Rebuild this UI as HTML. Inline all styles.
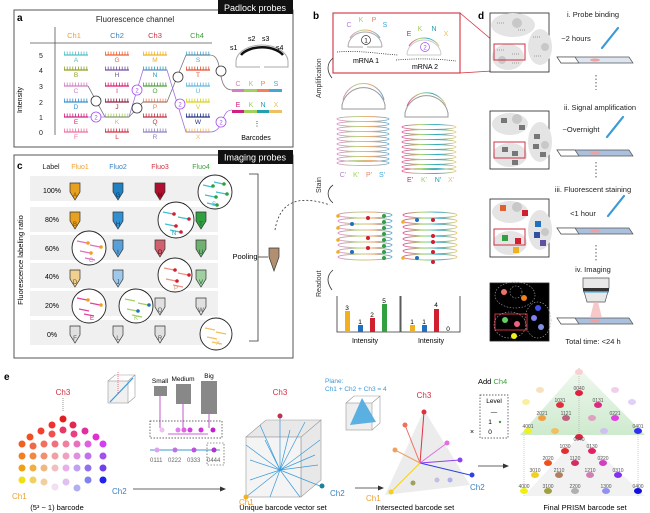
<!DOCTYPE html>
<html><head><meta charset="utf-8"><style>
html,body{margin:0;padding:0;background:#fff;}
svg{display:block;font-family:"Liberation Sans",sans-serif;}
</style></head><body>
<svg width="650" height="513" viewBox="0 0 650 513" xmlns="http://www.w3.org/2000/svg">
<defs>
<linearGradient id="g1" x1="0" x2="1"><stop offset="0" stop-color="#d98ac8"/><stop offset=".35" stop-color="#b8d48a"/><stop offset=".65" stop-color="#f0a870"/><stop offset="1" stop-color="#5aa8d8"/></linearGradient>
<linearGradient id="g2" x1="0" x2="1"><stop offset="0" stop-color="#e0509a"/><stop offset=".35" stop-color="#a8d870"/><stop offset=".65" stop-color="#30a8c8"/><stop offset="1" stop-color="#f0c870"/></linearGradient>
<linearGradient id="tri" x1="0" x2="0" y1="0" y2="1"><stop offset="0" stop-color="#eef7ee"/><stop offset="1" stop-color="#c8e8c8"/></linearGradient>
</defs>

<!-- ===== Panel a ===== -->
<rect x="14" y="10" width="279" height="137" fill="none" stroke="#555" stroke-width="1"/>
<rect x="218" y="0" width="75" height="14" fill="#111"/>
<text x="255" y="11" font-size="9" fill="#fff" text-anchor="middle">Padlock probes</text>
<text x="17" y="21" font-size="10" font-weight="bold">a</text>
<text x="135" y="22" font-size="8" text-anchor="middle" fill="#222">Fluorescence channel</text>
<line x1="30" y1="43" x2="212" y2="43" stroke="#555" stroke-width="0.8"/>
<line x1="55" y1="27" x2="55" y2="135" stroke="#555" stroke-width="0.8"/>
<g font-size="7.5" text-anchor="middle">
<text x="74" y="38" fill="#f0a030">Ch1</text><text x="117" y="38" fill="#3a80c0">Ch2</text><text x="155" y="38" fill="#d03040">Ch3</text><text x="197" y="38" fill="#40a040">Ch4</text>
</g>
<text x="22" y="100" font-size="7" transform="rotate(-90 22 100)" text-anchor="middle">Intensity</text>
<g font-size="7" text-anchor="middle" fill="#222">
<text x="41" y="58">5</text><text x="41" y="73">4</text><text x="41" y="89">3</text><text x="41" y="105">2</text><text x="41" y="120">1</text><text x="41" y="135">0</text>
</g>
<g stroke-width="1.2">
<g>
<g stroke="#50c0c8"><line x1="64" y1="55" x2="88" y2="55"/><line x1="64" y1="53" x2="88" y2="53" stroke-width="3" stroke-dasharray="0.8 2"/></g>
<g stroke="#90a020"><line x1="64" y1="70" x2="88" y2="70"/><line x1="64" y1="68" x2="88" y2="68" stroke-width="3" stroke-dasharray="0.8 2"/></g>
<g stroke="#d080c0"><line x1="64" y1="86" x2="88" y2="86"/><line x1="64" y1="84" x2="88" y2="84" stroke-width="3" stroke-dasharray="0.8 2"/></g>
<g stroke="#3a90d0"><line x1="64" y1="102" x2="88" y2="102"/><line x1="64" y1="100" x2="88" y2="100" stroke-width="3" stroke-dasharray="0.8 2"/></g>
<g stroke="#d02080"><line x1="64" y1="117" x2="88" y2="117"/><line x1="64" y1="115" x2="88" y2="115" stroke-width="3" stroke-dasharray="0.8 2"/></g>
<g stroke="#f070a0"><line x1="64" y1="132" x2="88" y2="132"/><line x1="64" y1="130" x2="88" y2="130" stroke-width="3" stroke-dasharray="0.8 2"/></g>
</g>
<g>
<g stroke="#f06030"><line x1="105" y1="55" x2="129" y2="55"/><line x1="105" y1="53" x2="129" y2="53" stroke-width="3" stroke-dasharray="0.8 2"/></g>
<g stroke="#7050a0"><line x1="105" y1="70" x2="129" y2="70"/><line x1="105" y1="68" x2="129" y2="68" stroke-width="3" stroke-dasharray="0.8 2"/></g>
<g stroke="#e01870"><line x1="105" y1="86" x2="129" y2="86"/><line x1="105" y1="84" x2="129" y2="84" stroke-width="3" stroke-dasharray="0.8 2"/></g>
<g stroke="#902040"><line x1="105" y1="102" x2="129" y2="102"/><line x1="105" y1="100" x2="129" y2="100" stroke-width="3" stroke-dasharray="0.8 2"/></g>
<g stroke="#a0d060"><line x1="105" y1="117" x2="129" y2="117"/><line x1="105" y1="115" x2="129" y2="115" stroke-width="3" stroke-dasharray="0.8 2"/></g>
<g stroke="#d03040"><line x1="105" y1="132" x2="129" y2="132"/><line x1="105" y1="130" x2="129" y2="130" stroke-width="3" stroke-dasharray="0.8 2"/></g>
</g>
<g>
<g stroke="#f0b020"><line x1="143" y1="55" x2="167" y2="55"/><line x1="143" y1="53" x2="167" y2="53" stroke-width="3" stroke-dasharray="0.8 2"/></g>
<g stroke="#20a0b0"><line x1="143" y1="70" x2="167" y2="70"/><line x1="143" y1="68" x2="167" y2="68" stroke-width="3" stroke-dasharray="0.8 2"/></g>
<g stroke="#50a040"><line x1="143" y1="86" x2="167" y2="86"/><line x1="143" y1="84" x2="167" y2="84" stroke-width="3" stroke-dasharray="0.8 2"/></g>
<g stroke="#f08060"><line x1="143" y1="102" x2="167" y2="102"/><line x1="143" y1="100" x2="167" y2="100" stroke-width="3" stroke-dasharray="0.8 2"/></g>
<g stroke="#c03040"><line x1="143" y1="117" x2="167" y2="117"/><line x1="143" y1="115" x2="167" y2="115" stroke-width="3" stroke-dasharray="0.8 2"/></g>
<g stroke="#9080c0"><line x1="143" y1="132" x2="167" y2="132"/><line x1="143" y1="130" x2="167" y2="130" stroke-width="3" stroke-dasharray="0.8 2"/></g>
</g>
<g>
<g stroke="#40a8d8"><line x1="186" y1="55" x2="210" y2="55"/><line x1="186" y1="53" x2="210" y2="53" stroke-width="3" stroke-dasharray="0.8 2"/></g>
<g stroke="#e05030"><line x1="186" y1="70" x2="210" y2="70"/><line x1="186" y1="68" x2="210" y2="68" stroke-width="3" stroke-dasharray="0.8 2"/></g>
<g stroke="#60b8e0"><line x1="186" y1="86" x2="210" y2="86"/><line x1="186" y1="84" x2="210" y2="84" stroke-width="3" stroke-dasharray="0.8 2"/></g>
<g stroke="#d8d020"><line x1="186" y1="102" x2="210" y2="102"/><line x1="186" y1="100" x2="210" y2="100" stroke-width="3" stroke-dasharray="0.8 2"/></g>
<g stroke="#203080"><line x1="186" y1="117" x2="210" y2="117"/><line x1="186" y1="115" x2="210" y2="115" stroke-width="3" stroke-dasharray="0.8 2"/></g>
<g stroke="#f0c060"><line x1="186" y1="132" x2="210" y2="132"/><line x1="186" y1="130" x2="210" y2="130" stroke-width="3" stroke-dasharray="0.8 2"/></g>
</g>
</g>
<g font-size="6.5" text-anchor="middle">
<text x="76" y="62" fill="#50c0c8">A</text><text x="76" y="77" fill="#90a020">B</text><text x="76" y="93" fill="#d080c0">C</text><text x="76" y="109" fill="#3a90d0">D</text><text x="76" y="124" fill="#d02080">E</text><text x="76" y="139" fill="#f070a0">F</text>
<text x="117" y="62" fill="#f06030">G</text><text x="117" y="77" fill="#7050a0">H</text><text x="117" y="93" fill="#e01870">I</text><text x="117" y="109" fill="#902040">J</text><text x="117" y="124" fill="#a0d060">K</text><text x="117" y="139" fill="#d03040">L</text>
<text x="155" y="62" fill="#f0b020">M</text><text x="155" y="77" fill="#20a0b0">N</text><text x="155" y="93" fill="#50a040">O</text><text x="155" y="109" fill="#f08060">P</text><text x="155" y="124" fill="#c03040">Q</text><text x="155" y="139" fill="#9080c0">R</text>
<text x="198" y="62" fill="#40a8d8">S</text><text x="198" y="77" fill="#e05030">T</text><text x="198" y="93" fill="#60b8e0">U</text><text x="198" y="109" fill="#d8d020">V</text><text x="198" y="124" fill="#203080">W</text><text x="198" y="139" fill="#f0c060">X</text>
</g>
<path d="M88 86 L105 117 L129 117 L143 102 L167 102 L186 55 L210 55 C225 55 215 90 232 90" fill="none" stroke="#777" stroke-width="0.8"/>
<path d="M88 117 L105 117 M129 117 L143 70 L167 70 L186 132 L210 132 C225 132 220 110 232 110" fill="none" stroke="#a070e0" stroke-width="0.8"/>
<g fill="#fff" stroke-width="0.8" font-size="6" text-anchor="middle">
<circle cx="96" cy="101" r="5" stroke="#333"/><text x="96" y="103.5">1</text>
<circle cx="96" cy="117" r="5" stroke="#a050f0"/><text x="96" y="119.5" fill="#a050f0">2</text>
<circle cx="137" cy="108" r="5" stroke="#333"/><text x="137" y="110.5">1</text>
<circle cx="137" cy="90" r="5" stroke="#a050f0"/><text x="137" y="92.5" fill="#a050f0">2</text>
<circle cx="178" cy="77" r="5" stroke="#333"/><text x="178" y="79.5">1</text>
<circle cx="180" cy="104" r="5" stroke="#a050f0"/><text x="180" y="106.5" fill="#a050f0">2</text>
<circle cx="221" cy="71" r="5" stroke="#333"/><text x="221" y="73.5">1</text>
<circle cx="221" cy="122" r="5" stroke="#a050f0"/><text x="221" y="124.5" fill="#a050f0">2</text>
</g>
<path d="M236 67 L236 62 A26 17 0 0 1 288 62 L288 67 L264 67 M260 67 L236 67" fill="none" stroke="#aaa" stroke-width="1"/>
<path d="M241 55 A23 13 0 0 1 283 55" fill="none" stroke="#111" stroke-width="2.5"/>
<g font-size="7"><text x="230" y="50">s1</text><text x="248" y="41">s2</text><text x="262" y="41">s3</text><text x="276" y="50">s4</text></g>
<g font-size="7" text-anchor="middle">
<text x="238" y="86" fill="#d080c0">C</text><text x="251" y="86" fill="#a0d060">K</text><text x="263" y="86" fill="#f08060">P</text><text x="276" y="86" fill="#40a8d8">S</text>
<text x="238" y="107" fill="#d02080">E</text><text x="251" y="107" fill="#a0d060">K</text><text x="263" y="107" fill="#20a0b0">N</text><text x="276" y="107" fill="#f0c060">X</text>
</g>
<rect x="232" y="89" width="12" height="3" fill="#d080c0"/><rect x="244" y="89" width="13" height="3" fill="#a0d060"/><rect x="257" y="89" width="12" height="3" fill="#f08060"/><rect x="269" y="89" width="13" height="3" fill="#40a8d8"/>
<rect x="232" y="110" width="12" height="3" fill="#d02080"/><rect x="244" y="110" width="13" height="3" fill="#a0d060"/><rect x="257" y="110" width="12" height="3" fill="#20a0b0"/><rect x="269" y="110" width="13" height="3" fill="#f0c060"/>
<text x="257" y="126" font-size="7" text-anchor="middle">⋮</text>
<text x="256" y="140" font-size="7" text-anchor="middle">Barcodes</text>

<!-- ===== Panel c ===== -->
<rect x="14" y="155" width="279" height="203" fill="none" stroke="#555" stroke-width="1"/>
<rect x="218" y="150" width="75" height="14" fill="#111"/>
<text x="255" y="160.5" font-size="9" fill="#fff" text-anchor="middle">Imaging probes</text>
<text x="17" y="169" font-size="10" font-weight="bold">c</text>
<g fill="#f0f0f0">
<rect x="30" y="176" width="188" height="25"/><rect x="30" y="207" width="188" height="25"/><rect x="30" y="235" width="188" height="25"/><rect x="30" y="263" width="188" height="25"/><rect x="30" y="291" width="188" height="25"/><rect x="30" y="320" width="188" height="25"/>
</g>
<g font-size="7" text-anchor="middle">
<text x="51" y="169" fill="#222">Label</text>
<text x="80" y="169" fill="#f0a030">Fluo1</text><text x="118" y="169" fill="#3a80c0">Fluo2</text><text x="160" y="169" fill="#d03040">Fluo3</text><text x="201" y="169" fill="#40a040">Fluo4</text>
<text x="52" y="193">100%</text><text x="52" y="222">80%</text><text x="52" y="251">60%</text><text x="52" y="279">40%</text><text x="52" y="308">20%</text><text x="52" y="337">0%</text>
</g>
<text x="23" y="260" font-size="7.5" transform="rotate(-90 23 260)" text-anchor="middle">Fluorescence labeling ratio</text>
<g stroke="#333" stroke-width="0.7">
<path d="M70 183 h10 v9 l-5 8 l-5 -8 z" fill="#e8a020"/><path d="M70 212 h10 v9 l-5 8 l-5 -8 z" fill="#e8a020"/><path d="M70 270 h10 v9 l-5 8 l-5 -8 z" fill="#f0d090"/><path d="M70 326 h10 v9 l-5 8 l-5 -8 z" fill="#e0e0e0"/>
<path d="M113 183 h10 v9 l-5 8 l-5 -8 z" fill="#2080c0"/><path d="M113 212 h10 v9 l-5 8 l-5 -8 z" fill="#3090d0"/><path d="M113 240 h10 v9 l-5 8 l-5 -8 z" fill="#5aa0d8"/><path d="M113 270 h10 v9 l-5 8 l-5 -8 z" fill="#a0c8e8"/><path d="M113 326 h10 v9 l-5 8 l-5 -8 z" fill="#e0e0e0"/>
<path d="M155 183 h10 v9 l-5 8 l-5 -8 z" fill="#b01030"/><path d="M155 240 h10 v9 l-5 8 l-5 -8 z" fill="#d06070"/><path d="M155 298 h10 v9 l-5 8 l-5 -8 z" fill="#e0e0e0"/><path d="M155 326 h10 v9 l-5 8 l-5 -8 z" fill="#e0e0e0"/>
<path d="M196 212 h10 v9 l-5 8 l-5 -8 z" fill="#30a040"/><path d="M196 240 h10 v9 l-5 8 l-5 -8 z" fill="#70b070"/><path d="M196 270 h10 v9 l-5 8 l-5 -8 z" fill="#a0d0a0"/><path d="M196 298 h10 v9 l-5 8 l-5 -8 z" fill="#e0e0e0"/>
</g>
<g stroke="#222" stroke-width="0.9" fill="#fff">
<circle cx="215" cy="192" r="17"/><circle cx="176" cy="220" r="18"/><circle cx="89" cy="248" r="17"/><circle cx="175" cy="275" r="17"/><circle cx="89" cy="306" r="17"/><circle cx="136" cy="306" r="17"/><circle cx="216" cy="334" r="16"/>
</g>
<g stroke-width="1.2">
<g stroke="#40c0d0"><line x1="203" y1="185" x2="212" y2="187"/><line x1="205" y1="195" x2="215" y2="197"/><line x1="214" y1="182" x2="223" y2="184"/><line x1="216" y1="192" x2="226" y2="194"/><line x1="207" y1="203" x2="216" y2="205"/></g>
<g stroke="#40c0d0"><line x1="163" y1="212" x2="173" y2="214"/><line x1="165" y1="224" x2="175" y2="226"/><line x1="178" y1="217" x2="188" y2="219"/><line x1="170" y1="230" x2="180" y2="232"/></g>
<g stroke="#e070c0"><line x1="77" y1="241" x2="87" y2="243"/><line x1="80" y1="251" x2="90" y2="253"/><line x1="90" y1="245" x2="100" y2="247"/><line x1="85" y1="258" x2="95" y2="260"/></g>
<g stroke="#f09080"><line x1="164" y1="268" x2="174" y2="270"/><line x1="166" y1="279" x2="176" y2="281"/><line x1="178" y1="273" x2="188" y2="275"/><line x1="173" y1="285" x2="183" y2="287"/></g>
<g stroke="#e040a0"><line x1="77" y1="298" x2="87" y2="300"/><line x1="79" y1="309" x2="89" y2="311"/><line x1="90" y1="303" x2="100" y2="305"/><line x1="84" y1="314" x2="94" y2="316"/></g>
<g stroke="#a0d060"><line x1="125" y1="299" x2="135" y2="301"/><line x1="127" y1="309" x2="137" y2="311"/><line x1="138" y1="303" x2="148" y2="305"/><line x1="132" y1="315" x2="142" y2="317"/></g>
<g stroke="#f0c060"><line x1="205" y1="328" x2="215" y2="330"/><line x1="207" y1="337" x2="217" y2="339"/><line x1="216" y1="332" x2="226" y2="334"/><line x1="212" y1="342" x2="222" y2="344"/></g>
</g>
<g>
<g fill="#30a040"><circle cx="213" cy="186" r="1.8"/><circle cx="216" cy="197" r="1.8"/><circle cx="224" cy="184" r="1.8"/><circle cx="227" cy="194" r="1.8"/><circle cx="217" cy="205" r="1.8"/></g>
<g fill="#d02030"><circle cx="174" cy="214" r="1.8"/><circle cx="176" cy="226" r="1.8"/><circle cx="189" cy="219" r="1.8"/><circle cx="181" cy="232" r="1.8"/></g>
<g fill="#f0a020"><circle cx="88" cy="243" r="1.8"/><circle cx="91" cy="253" r="1.8"/><circle cx="101" cy="247" r="1.8"/></g>
<g fill="#d02030"><circle cx="175" cy="270" r="1.8"/><circle cx="177" cy="281" r="1.8"/><circle cx="189" cy="275" r="1.8"/></g>
<g fill="#f0a020"><circle cx="88" cy="300" r="1.8"/><circle cx="101" cy="305" r="1.8"/></g>
<g fill="#2070c0"><circle cx="138" cy="311" r="1.8"/><circle cx="149" cy="305" r="1.8"/></g>
</g>
<g font-size="6" text-anchor="middle">
<text x="75" y="197" fill="#7a4a00">A</text><text x="75" y="226" fill="#7a4a00">B</text><text x="75" y="284" fill="#7a4a00">D</text><text x="75" y="340" fill="#555">F</text>
<text x="118" y="197" fill="#0a3a70">G</text><text x="118" y="226" fill="#0a3a70">H</text><text x="118" y="254" fill="#0a3a70">I</text><text x="118" y="284" fill="#0a3a70">J</text><text x="118" y="340" fill="#555">L</text>
<text x="160" y="197" fill="#600">M</text><text x="160" y="254" fill="#600">O</text><text x="160" y="312" fill="#555">Q</text><text x="160" y="340" fill="#555">R</text>
<text x="201" y="226" fill="#063">T</text><text x="201" y="254" fill="#063">U</text><text x="201" y="284" fill="#063">V</text><text x="201" y="312" fill="#555">W</text>
<text x="214" y="206" fill="#40a8d8">S</text><text x="174" y="235" fill="#20a0b0">N</text><text x="91" y="262" fill="#d080c0">C</text><text x="176" y="290" fill="#f08060">P</text><text x="92" y="320" fill="#d02080">E</text><text x="136" y="320" fill="#a0d060">K</text><text x="218" y="345" fill="#f0c060">X</text>
</g>
<path d="M249 174 H258 V341 H249" fill="none" stroke="#333" stroke-width="0.8"/>
<line x1="258" y1="257" x2="268" y2="257" stroke="#333" stroke-width="0.8"/>
<text x="245" y="259" font-size="7.5" text-anchor="middle">Pooling</text>
<path d="M269 248 h10 v9 l-5 14 l-5 -14 z" fill="#b09070" stroke="#333" stroke-width="0.7"/>
<path d="M275 230 C280 200 300 195 330 205" fill="none" stroke="#333" stroke-width="0.8" stroke-dasharray="2 2"/>

<!-- ===== Panel b ===== -->
<text x="313" y="19" font-size="10" font-weight="bold">b</text>
<rect x="333" y="13" width="127" height="60" fill="none" stroke="#d03040" stroke-width="1.1"/>
<line x1="460" y1="13" x2="492" y2="40" stroke="#d03040" stroke-width="0.8"/><line x1="460" y1="73" x2="492" y2="71" stroke="#d03040" stroke-width="0.8"/>
<path d="M348 47 A17 15 0 0 1 382 47 M348 47 h15 M367 47 h15" fill="none" stroke="#aaa" stroke-width="1"/>
<path d="M407 55 A17 15 0 0 1 441 55 M407 55 h34" fill="none" stroke="#ccc" stroke-width="1"/>
<path d="M350 38 A17 15 0 0 1 380 38" fill="none" stroke="url(#g1)" stroke-width="1"/>
<path d="M409 46 A17 15 0 0 1 439 46" fill="none" stroke="url(#g2)" stroke-width="1"/>
<g font-size="7" text-anchor="middle">
<text x="349" y="27" fill="#b080d0">C</text><text x="361" y="22" fill="#a0d060">K</text><text x="374" y="22" fill="#f08060">P</text><text x="385" y="27" fill="#40a8d8">S</text>
<text x="409" y="36" fill="#d02080">E</text><text x="420" y="31" fill="#a0d060">K</text><text x="434" y="31" fill="#20a0b0">N</text><text x="446" y="36" fill="#f0c060">X</text>
</g>
<circle cx="366" cy="40" r="4.5" fill="none" stroke="#333" stroke-width="0.7"/><text x="366" y="42.5" font-size="6" text-anchor="middle">1</text>
<circle cx="425" cy="47" r="4.5" fill="none" stroke="#a050f0" stroke-width="0.7"/><text x="425" y="49.5" font-size="6" text-anchor="middle" fill="#a050f0">2</text>
<path d="M337 52 C360 50 380 54 398 55" fill="none" stroke="#333" stroke-width="0.8" stroke-dasharray="1 1.2"/>
<path d="M396 60 C420 58 440 59 456 61" fill="none" stroke="#333" stroke-width="0.8" stroke-dasharray="1 1.2"/>
<text x="366" y="63" font-size="7" text-anchor="middle">mRNA 1</text><text x="425" y="69" font-size="7" text-anchor="middle">mRNA 2</text>
<g font-size="7" fill="#333">
<text x="0" y="0" transform="translate(321 98) rotate(-90)">Amplification</text>
<text x="0" y="0" transform="translate(321 193) rotate(-90)">Stain</text>
<text x="0" y="0" transform="translate(321 297) rotate(-90)">Readout</text>
</g>
<path d="M333 58 C326 64 327 72 332 78 M333 185 C326 190 327 198 333 203 M333 270 C326 276 327 283 332 290" fill="none" stroke="#333" stroke-width="0.8"/>
<path d="M342 105 A22 22 0 0 1 385 105 L385 109 L342 109 Z" fill="none" stroke="#999" stroke-width="1"/>
<path d="M343 100 A21 21 0 0 1 384 100" fill="none" stroke="url(#g1)" stroke-width="1"/>
<path d="M405 113 A22 22 0 0 1 448 113 L448 117 L405 117 Z" fill="none" stroke="#999" stroke-width="1"/>
<path d="M407 106 A21 21 0 0 1 446 106" fill="none" stroke="url(#g2)" stroke-width="1"/>
<g fill="none" stroke="url(#g1)" stroke-width="0.9">
<ellipse cx="363" cy="119" rx="26" ry="2.5"/><ellipse cx="363" cy="124" rx="26" ry="2.5"/><ellipse cx="363" cy="129" rx="26" ry="2.5"/><ellipse cx="363" cy="134" rx="26" ry="2.5"/><ellipse cx="363" cy="139" rx="26" ry="2.5"/><ellipse cx="363" cy="144" rx="26" ry="2.5"/><ellipse cx="363" cy="149" rx="26" ry="2.5"/><ellipse cx="363" cy="154" rx="26" ry="2.5"/><ellipse cx="363" cy="159" rx="26" ry="2.5"/><ellipse cx="363" cy="163" rx="26" ry="2.5"/>
</g>
<g fill="none" stroke="url(#g2)" stroke-width="0.9">
<ellipse cx="429" cy="127" rx="27" ry="2.5"/><ellipse cx="429" cy="132" rx="27" ry="2.5"/><ellipse cx="429" cy="137" rx="27" ry="2.5"/><ellipse cx="429" cy="142" rx="27" ry="2.5"/><ellipse cx="429" cy="147" rx="27" ry="2.5"/><ellipse cx="429" cy="152" rx="27" ry="2.5"/><ellipse cx="429" cy="157" rx="27" ry="2.5"/><ellipse cx="429" cy="162" rx="27" ry="2.5"/><ellipse cx="429" cy="167" rx="27" ry="2.5"/><ellipse cx="429" cy="171" rx="27" ry="2.5"/>
</g>
<g font-size="7" text-anchor="middle">
<text x="343" y="177" fill="#b080d0">C'</text><text x="356" y="177" fill="#a0d060">K'</text><text x="369" y="177" fill="#f08060">P'</text><text x="382" y="177" fill="#40a8d8">S'</text>
<text x="410" y="182" fill="#d02080">E'</text><text x="424" y="182" fill="#a0d060">K'</text><text x="438" y="182" fill="#20a0b0">N'</text><text x="451" y="182" fill="#f0c060">X'</text>
</g>
<g fill="none" stroke-width="0.9">
<g stroke="url(#g1)"><ellipse cx="365" cy="215" rx="27" ry="3"/><ellipse cx="365" cy="221" rx="27" ry="3"/><ellipse cx="365" cy="227" rx="27" ry="3"/><ellipse cx="365" cy="233" rx="27" ry="3"/><ellipse cx="365" cy="239" rx="27" ry="3"/><ellipse cx="365" cy="245" rx="27" ry="3"/><ellipse cx="365" cy="251" rx="27" ry="3"/><ellipse cx="365" cy="257" rx="27" ry="3"/></g>
<g stroke="url(#g2)"><ellipse cx="430" cy="215" rx="27" ry="3"/><ellipse cx="430" cy="221" rx="27" ry="3"/><ellipse cx="430" cy="227" rx="27" ry="3"/><ellipse cx="430" cy="233" rx="27" ry="3"/><ellipse cx="430" cy="239" rx="27" ry="3"/><ellipse cx="430" cy="245" rx="27" ry="3"/><ellipse cx="430" cy="251" rx="27" ry="3"/><ellipse cx="430" cy="257" rx="27" ry="3"/></g>
</g>
<g>
<g fill="#f0b020"><circle cx="338" cy="216" r="1.8"/><circle cx="338" cy="228" r="1.8"/><circle cx="338" cy="240" r="1.8"/><circle cx="338" cy="252" r="1.8"/><circle cx="403" cy="222" r="1.8"/><circle cx="403" cy="258" r="1.8"/></g>
<g fill="#2070c0"><circle cx="352" cy="224" r="2"/><circle cx="352" cy="252" r="2"/><circle cx="417" cy="220" r="2"/><circle cx="417" cy="258" r="2"/></g>
<g fill="#d02030"><circle cx="368" cy="218" r="2"/><circle cx="368" cy="238" r="2"/><circle cx="368" cy="248" r="2"/><circle cx="433" cy="220" r="2"/><circle cx="433" cy="236" r="2"/><circle cx="433" cy="242" r="2"/><circle cx="433" cy="252" r="2"/><circle cx="433" cy="262" r="2"/></g>
<g fill="#30a040"><circle cx="384" cy="216" r="2"/><circle cx="384" cy="222" r="2"/><circle cx="384" cy="228" r="2"/><circle cx="384" cy="234" r="2"/><circle cx="384" cy="240" r="2"/><circle cx="384" cy="246" r="2"/><circle cx="384" cy="252" r="2"/><circle cx="384" cy="258" r="2"/></g>
</g>
<path d="M337 296 V332 H400 V296" fill="none" stroke="#333" stroke-width="0.8"/>
<rect x="345" y="311" width="5" height="21" fill="#f0b020"/><rect x="358" y="325" width="5" height="7" fill="#2070c0"/><rect x="370" y="318" width="5" height="14" fill="#d02030"/><rect x="382" y="304" width="5" height="28" fill="#30a040"/>
<g font-size="6.5" text-anchor="middle"><text x="347" y="310">3</text><text x="360" y="324">1</text><text x="372" y="317">2</text><text x="384" y="303">5</text></g>
<path d="M401 296 V332 H460 V296" fill="none" stroke="#333" stroke-width="0.8"/>
<rect x="410" y="325" width="5" height="7" fill="#f0b020"/><rect x="422" y="325" width="5" height="7" fill="#2070c0"/><rect x="434" y="309" width="5" height="23" fill="#d02030"/>
<g font-size="6.5" text-anchor="middle"><text x="412" y="324">1</text><text x="424" y="324">1</text><text x="436" y="307">4</text><text x="448" y="331">0</text></g>
<text x="365" y="343" font-size="7" text-anchor="middle">Intensity</text><text x="431" y="343" font-size="7" text-anchor="middle">Intensity</text>

<!-- ===== Panel d ===== -->
<text x="478" y="19" font-size="10" font-weight="bold">d</text>
<g stroke="#222" stroke-width="0.8">
<rect x="490" y="13" width="59" height="59" fill="#fff"/><rect x="490" y="111" width="59" height="58" fill="#fff"/><rect x="490" y="199" width="59" height="58" fill="#fff"/><rect x="490" y="283" width="59" height="58" fill="#000"/>
</g>
<g fill="#e4e4e4">
<ellipse cx="513" cy="25" rx="22" ry="12"/><ellipse cx="540" cy="47" rx="12" ry="18"/><ellipse cx="508" cy="57" rx="16" ry="13"/>
<ellipse cx="510" cy="124" rx="18" ry="11"/><ellipse cx="540" cy="142" rx="12" ry="20"/><ellipse cx="510" cy="155" rx="17" ry="12"/>
<ellipse cx="510" cy="212" rx="18" ry="11"/><ellipse cx="540" cy="230" rx="12" ry="20"/><ellipse cx="510" cy="243" rx="17" ry="12"/>
</g>
<g fill="#c8c8c8"><circle cx="517" cy="23" r="5"/><circle cx="545" cy="47" r="4"/><circle cx="502" cy="60" r="4"/><circle cx="517" cy="119" r="5"/><circle cx="545" cy="145" r="4"/><circle cx="517" cy="207" r="5"/><circle cx="545" cy="232" r="4"/></g>
<g fill="#777"><rect x="501" y="118" width="6" height="5"/><rect x="519" y="125" width="6" height="5"/><rect x="534" y="134" width="6" height="5"/><rect x="533" y="144" width="6" height="5"/><rect x="540" y="152" width="6" height="5"/><rect x="502" y="147" width="6" height="5"/><rect x="512" y="151" width="6" height="5"/><rect x="512" y="160" width="6" height="5"/></g>
<g><rect x="500" y="205" width="6" height="6" fill="#e06030"/><rect x="522" y="210" width="6" height="6" fill="#d02030"/><rect x="535" y="221" width="6" height="6" fill="#2070c0"/><rect x="534" y="232" width="6" height="6" fill="#3050a0"/><rect x="540" y="240" width="6" height="6" fill="#6050a0"/><rect x="502" y="235" width="6" height="6" fill="#30a040"/><rect x="515" y="238" width="6" height="6" fill="#d02030"/><rect x="513" y="247" width="6" height="6" fill="#f0b020"/></g>
<g stroke="#555" stroke-width="0.6" stroke-dasharray="1 1"><line x1="497" y1="23" x2="505" y2="23"/><line x1="518" y1="30" x2="526" y2="30"/><line x1="533" y1="37" x2="541" y2="37"/><line x1="497" y1="50" x2="505" y2="50"/><line x1="512" y1="54" x2="520" y2="54"/><line x1="534" y1="56" x2="541" y2="56"/><line x1="512" y1="63" x2="520" y2="63"/></g>
<g fill="none" stroke="#d03040" stroke-width="1"><rect x="494" y="44" width="31" height="16"/><rect x="494" y="142" width="31" height="16"/><rect x="494" y="229" width="31" height="16"/><rect x="495" y="314" width="32" height="16"/></g>
<g fill="none" stroke="#aaa" stroke-width="0.6" stroke-dasharray="1.5 1.5"><ellipse cx="515" cy="295" rx="20" ry="13"/><ellipse cx="538" cy="320" rx="13" ry="18"/><ellipse cx="510" cy="325" rx="16" ry="13"/><circle cx="516" cy="292" r="6"/></g>
<g><circle cx="504" cy="292" r="3" fill="#f07070"/><circle cx="524" cy="298" r="3" fill="#f08020"/><circle cx="538" cy="308" r="3" fill="#4050f0"/><circle cx="534" cy="318" r="3" fill="#8080f0"/><circle cx="541" cy="327" r="3" fill="#8090e0"/><circle cx="505" cy="320" r="3" fill="#60d060"/><circle cx="517" cy="324" r="3" fill="#f06080"/><circle cx="514" cy="336" r="3" fill="#f0f020"/></g>
<g font-size="7.5" text-anchor="middle" fill="#222">
<text x="593" y="17">i. Probe binding</text><text x="576" y="41">~2 hours</text>
<text x="600" y="110">ii. Signal amplification</text><text x="581" y="132">~Overnight</text>
<text x="593" y="192">iii. Fluorescent staining</text><text x="583" y="216">&lt;1 hour</text>
<text x="593" y="272">iv. Imaging</text><text x="593" y="344">Total time: &lt;24 h</text>
</g>
<g stroke="#555" stroke-width="0.7">
<path d="M557 57 h72 l4 6 h-72 z" fill="#dde6f0"/><path d="M557 57 h18 l4 6 h-18 z" fill="#fff"/>
<path d="M557 150 h72 l4 6 h-72 z" fill="#aac0dc"/><path d="M557 150 h18 l4 6 h-18 z" fill="#fff"/>
<path d="M557 228 h72 l4 6 h-72 z" fill="#aac0dc"/><path d="M557 228 h18 l4 6 h-18 z" fill="#fff"/>
<path d="M557 318 h72 l4 6 h-72 z" fill="#aac0dc"/><path d="M557 318 h18 l4 6 h-18 z" fill="#fff"/>
</g>
<g fill="#f0a0a0"><ellipse cx="595" cy="60" rx="5" ry="1.5"/><ellipse cx="595" cy="153" rx="5" ry="1.5"/><ellipse cx="595" cy="231" rx="5" ry="1.5"/><ellipse cx="595" cy="321" rx="5" ry="1.5"/></g>
<g stroke="#3a9ad8" stroke-width="2.2" stroke-linecap="round"><line x1="602" y1="48" x2="618" y2="28"/><line x1="607" y1="137" x2="623" y2="117"/><line x1="608" y1="216" x2="624" y2="196"/></g>
<g stroke="#333" stroke-width="0.8" stroke-dasharray="1.5 2"><line x1="596" y1="75" x2="596" y2="90"/><line x1="596" y1="162" x2="596" y2="178"/><line x1="596" y1="245" x2="596" y2="262"/></g>
<path d="M583 278 h26 v10 l-4 14 h-18 l-4 -14 z" fill="#e8e8e8" stroke="#555" stroke-width="0.7"/>
<rect x="583" y="288" width="26" height="3" fill="#333"/><rect x="583" y="291" width="26" height="1.5" fill="#3a9ad8"/>
<path d="M594 302 L590 318 H602 L598 302 Z" fill="#f4b0b0" opacity=".7"/>

<!-- ===== Panel e ===== -->
<text x="4" y="380" font-size="10" font-weight="bold">e</text>
<text x="63" y="395" font-size="8" fill="#d03040" text-anchor="middle">Ch3</text>
<line x1="63" y1="398" x2="63" y2="412" stroke="#555" stroke-width="0.6" stroke-dasharray="1 1"/>
<g>
<circle cx="63" cy="419" r="3.5" fill="#e02020"/>
<circle cx="52" cy="425" r="3.5" fill="#f03030"/><circle cx="73" cy="425" r="3.5" fill="#e02850"/>
<circle cx="41" cy="431" r="3.5" fill="#f04030"/><circle cx="52" cy="434" r="3.5" fill="#f05050"/><circle cx="63" cy="430" r="3.5" fill="#e83868"/><circle cx="74" cy="434" r="3.5" fill="#e84080"/><circle cx="85" cy="431" r="3.5" fill="#e030a0"/>
<circle cx="30" cy="437" r="3.5" fill="#f05020"/><circle cx="96" cy="437" r="3.5" fill="#e030d0"/>
<circle cx="22" cy="444" r="3.5" fill="#f06020"/><circle cx="33" cy="446" r="3.5" fill="#f06848"/><circle cx="44" cy="444" r="3.5" fill="#f07060"/><circle cx="55" cy="444" r="3.5" fill="#f07080"/><circle cx="66" cy="444" r="3.5" fill="#f080a0"/><circle cx="77" cy="444" r="3.5" fill="#e870c0"/><circle cx="88" cy="444" r="3.5" fill="#e060e0"/><circle cx="103" cy="444" r="3.5" fill="#d040f0"/>
<circle cx="22" cy="456" r="3.5" fill="#f08020"/><circle cx="33" cy="456" r="3.5" fill="#f08840"/><circle cx="44" cy="456" r="3.5" fill="#f09070"/><circle cx="55" cy="456" r="3.5" fill="#f0a0a0"/><circle cx="66" cy="456" r="3.5" fill="#f0a0c0"/><circle cx="77" cy="456" r="3.5" fill="#e090e0"/><circle cx="88" cy="456" r="3.5" fill="#c070f0"/><circle cx="103" cy="456" r="3.5" fill="#a050f0"/>
<circle cx="22" cy="468" r="3.5" fill="#f0a010"/><circle cx="33" cy="468" r="3.5" fill="#f0b040"/><circle cx="44" cy="468" r="3.5" fill="#f0b880"/><circle cx="55" cy="468" r="3.5" fill="#f0c0c0"/><circle cx="66" cy="468" r="3.5" fill="#e8b0e8"/><circle cx="77" cy="468" r="3.5" fill="#c0a0f0"/><circle cx="88" cy="468" r="3.5" fill="#9070f0"/><circle cx="103" cy="468" r="3.5" fill="#7040f0"/>
<circle cx="22" cy="480" r="3.5" fill="#f0e010"/><circle cx="33" cy="480" r="3.5" fill="#f0d060"/><circle cx="44" cy="482" r="3.5" fill="#f0d0a0"/><circle cx="66" cy="482" r="3.5" fill="#e0c0f0"/><circle cx="88" cy="480" r="3.5" fill="#8080f0"/><circle cx="103" cy="480" r="3.5" fill="#2020f0"/>
<circle cx="55" cy="487" r="3.5" fill="#f0e0f0"/><circle cx="77" cy="488" r="3.5" fill="#b0b0f0"/>
</g>
<text x="12" y="499" font-size="8" fill="#f0a030">Ch1</text><text x="112" y="494" font-size="8" fill="#3a80c0">Ch2</text>
<text x="57" y="510" font-size="7.5" text-anchor="middle">(5³ − 1) barcode</text>
<g fill="none" stroke="#999" stroke-width="0.6"><rect x="108" y="381" width="20" height="22" fill="#f0f0f0"/><path d="M108 381 l7 -6 h20 l-7 6 M128 403 l7 -6 v-22"/></g>
<line x1="110" y1="402" x2="133" y2="378" stroke="#3a9ad8" stroke-width="1.2"/><line x1="118" y1="372" x2="118" y2="394" stroke="#d03040" stroke-width="0.6" stroke-dasharray="1 1"/>
<g font-size="6.5" text-anchor="middle"><text x="160" y="383">Small</text><text x="183" y="381">Medium</text><text x="209" y="378">Big</text></g>
<rect x="154" y="386" width="13" height="10" fill="#888"/><rect x="176" y="384" width="15" height="20" fill="#888"/><rect x="201" y="381" width="16" height="33" fill="#888"/>
<g stroke="#b030c0" stroke-width="0.8"><line x1="160" y1="396" x2="160" y2="428"/><line x1="183" y1="404" x2="183" y2="428"/><line x1="209" y1="414" x2="209" y2="428"/></g>
<rect x="150" y="421" width="72" height="17" fill="none" stroke="#333" stroke-width="0.7" stroke-dasharray="1.5 1.5"/>
<g><circle cx="162" cy="430" r="2.5" fill="#f0c0f0"/><circle cx="178" cy="430" r="2.5" fill="#e080f0"/><circle cx="184" cy="430" r="2.5" fill="#e060e0"/><circle cx="190" cy="430" r="2.5" fill="#d040e0"/><circle cx="201" cy="430" r="2.5" fill="#d030e0"/><circle cx="213" cy="430" r="2.5" fill="#c020d0"/></g>
<line x1="168" y1="434" x2="208" y2="434" stroke="#b030c0" stroke-width="0.7"/>
<line x1="150" y1="450" x2="220" y2="450" stroke="#3a9ad8" stroke-width="1"/>
<rect x="207" y="443" width="17" height="22" fill="none" stroke="#333" stroke-width="0.6" stroke-dasharray="1.5 1.5"/>
<g><circle cx="157" cy="450" r="2.5" fill="#e0a0f0"/><circle cx="175" cy="450" r="2.5" fill="#c070e0"/><circle cx="194" cy="450" r="2.5" fill="#c050e0"/><circle cx="214" cy="450" r="2.5" fill="#b030d0"/></g>
<g font-size="6" fill="#666"><text x="150" y="462">0111</text><text x="168" y="462">0222</text><text x="187" y="462">0333</text><text x="207" y="462">0444</text></g>
<line x1="133" y1="489" x2="222" y2="489" stroke="#333" stroke-width="0.8"/><path d="M226 489 l-6 -2.5 v5 z" fill="#333"/>
<text x="280" y="395" font-size="8" fill="#d03040" text-anchor="middle">Ch3</text>
<path d="M246 437 l20 -17 h55 l-20 17 z M301 437 l20 -17 v60 l-20 17 z" fill="#e8e8e8" stroke="#999" stroke-width="0.6"/>
<rect x="246" y="437" width="55" height="60" fill="#f0f0f0" fill-opacity=".7" stroke="#999" stroke-width="0.6"/>
<g stroke="#3a9ad8" stroke-width="0.7">
<line x1="280" y1="470" x2="280" y2="416"/><line x1="280" y1="470" x2="246" y2="497"/><line x1="280" y1="470" x2="320" y2="486"/><line x1="280" y1="470" x2="260" y2="425"/><line x1="280" y1="470" x2="305" y2="422"/><line x1="280" y1="470" x2="246" y2="445"/><line x1="280" y1="470" x2="320" y2="440"/><line x1="280" y1="470" x2="300" y2="497"/><line x1="280" y1="470" x2="250" y2="480"/><line x1="280" y1="470" x2="318" y2="465"/><line x1="280" y1="470" x2="270" y2="497"/><line x1="280" y1="470" x2="290" y2="430"/><line x1="280" y1="470" x2="250" y2="460"/><line x1="280" y1="470" x2="315" y2="455"/><line x1="280" y1="470" x2="265" y2="440"/></g>
<circle cx="280" cy="416" r="2.5" fill="#c03050"/><circle cx="246" cy="497" r="2.5" fill="#f0b020"/><circle cx="322" cy="486" r="2.5" fill="#2080a0"/>
<text x="239" y="505" font-size="8" fill="#f0a030">Ch1</text><text x="330" y="496" font-size="8" fill="#3a80c0">Ch2</text>
<text x="283" y="510" font-size="7.5" text-anchor="middle">Unique barcode vector set</text>
<text x="325" y="383" font-size="6.5" fill="#3a9ad8">Plane:</text><text x="325" y="391" font-size="6.5" fill="#3a9ad8">Ch1 + Ch2 + Ch3 = 4</text>
<rect x="346" y="403" width="26" height="27" fill="#eee" stroke="#999" stroke-width="0.6"/><path d="M346 403 l8 -7 h26 l-8 7 M372 430 l8 -7 v-27" fill="none" stroke="#999" stroke-width="0.6"/>
<path d="M362 398 L350 425 L376 422 Z" fill="#5ab0e0"/>
<line x1="355" y1="488" x2="380" y2="488" stroke="#333" stroke-width="0.8"/><path d="M384 488 l-6 -2.5 v5 z" fill="#333"/>
<text x="424" y="398" font-size="8" fill="#d03040" text-anchor="middle">Ch3</text>
<path d="M424 410 L385 495 L470 485 Z" fill="#ececec"/>
<g stroke-width="1"><line x1="420" y1="463" x2="424" y2="412" stroke="#e03040"/><line x1="420" y1="463" x2="391" y2="492" stroke="#f0d020"/><line x1="420" y1="463" x2="470" y2="475" stroke="#3040e0"/><line x1="420" y1="463" x2="405" y2="425" stroke="#f07060"/><line x1="420" y1="463" x2="447" y2="443" stroke="#e070e0"/><line x1="420" y1="463" x2="460" y2="460" stroke="#9040f0"/><line x1="420" y1="463" x2="395" y2="450" stroke="#f0a060"/></g>
<g><circle cx="424" cy="412" r="2.5" fill="#e03040"/><circle cx="391" cy="492" r="2.5" fill="#f0d020"/><circle cx="472" cy="475" r="2.5" fill="#3040e0"/><circle cx="405" cy="425" r="2.5" fill="#f07060"/><circle cx="447" cy="443" r="2.5" fill="#e070e0"/><circle cx="460" cy="460" r="2.5" fill="#9040f0"/><circle cx="395" cy="450" r="2.5" fill="#f0a060"/><circle cx="413" cy="483" r="2.5" fill="#a0a060"/><circle cx="437" cy="480" r="2.5" fill="#c0c0e0"/><circle cx="450" cy="480" r="2.5" fill="#b0b0f0"/></g>
<text x="366" y="501" font-size="8" fill="#f0a030">Ch1</text><text x="470" y="490" font-size="8" fill="#3a80c0">Ch2</text>
<text x="415" y="510" font-size="7.5" text-anchor="middle">Intersected barcode set</text>
<text x="478" y="384" font-size="7.5">Add <tspan fill="#40a040">Ch4</tspan></text>
<rect x="480" y="395" width="28" height="43" fill="none" stroke="#333" stroke-width="0.7" stroke-dasharray="1.5 1.5"/>
<g font-size="6.5" text-anchor="middle"><text x="494" y="403">Level</text><text x="494" y="414">—</text><text x="490" y="424">1</text><text x="490" y="434">0</text></g>
<circle cx="500" cy="422" r="1.2" fill="#40a040"/>
<text x="470" y="434" font-size="7">×</text>
<line x1="478" y1="466" x2="505" y2="466" stroke="#333" stroke-width="0.8"/><path d="M509 466 l-6 -2.5 v5 z" fill="#333"/>
<path d="M579 368 L520 435 L645 435 Z" fill="url(#tri)" opacity=".9"/>
<path d="M580 435 L524 496 L645 496 Z" fill="#f2f2f2"/>
<g stroke="#999" stroke-width="0.5" stroke-dasharray="1 1"><line x1="524" y1="435" x2="524" y2="496"/><line x1="638" y1="435" x2="638" y2="496"/><line x1="579" y1="368" x2="579" y2="435"/></g>
<g>
<ellipse cx="579" cy="393" rx="4" ry="3" fill="#e02040"/><ellipse cx="560" cy="405" rx="4" ry="3" fill="#e03040"/><ellipse cx="598" cy="405" rx="4" ry="3" fill="#e02880"/>
<ellipse cx="542" cy="418" rx="4" ry="3" fill="#f0a040"/><ellipse cx="566" cy="418" rx="4" ry="3" fill="#c06080"/><ellipse cx="592" cy="418" rx="4" ry="3" fill="#e0a0c0"/><ellipse cx="615" cy="418" rx="4" ry="3" fill="#e040e0"/>
<ellipse cx="528" cy="431" rx="4" ry="3" fill="#f0f020"/><ellipse cx="555" cy="431" rx="4" ry="3" fill="#f0c060"/><ellipse cx="604" cy="431" rx="4" ry="3" fill="#d0c0f0"/><ellipse cx="638" cy="431" rx="4" ry="3" fill="#3030f0"/>
<ellipse cx="579" cy="437" rx="4" ry="3" fill="#e02040"/><ellipse cx="565" cy="451" rx="4" ry="3" fill="#e03030"/><ellipse cx="592" cy="451" rx="4" ry="3" fill="#e02060"/>
<ellipse cx="548" cy="463" rx="4" ry="3" fill="#f05020"/><ellipse cx="575" cy="463" rx="4" ry="3" fill="#d03060"/><ellipse cx="603" cy="463" rx="4" ry="3" fill="#d040c0"/>
<ellipse cx="535" cy="475" rx="4" ry="3" fill="#f0d020"/><ellipse cx="559" cy="475" rx="4" ry="3" fill="#b08060"/><ellipse cx="590" cy="475" rx="4" ry="3" fill="#d080b0"/><ellipse cx="618" cy="475" rx="4" ry="3" fill="#8030f0"/>
<ellipse cx="524" cy="491" rx="4" ry="3" fill="#f0f010"/><ellipse cx="548" cy="491" rx="4" ry="3" fill="#a0a040"/><ellipse cx="575" cy="491" rx="4" ry="3" fill="#b0b0b0"/><ellipse cx="606" cy="491" rx="4" ry="3" fill="#9090f0"/><ellipse cx="638" cy="491" rx="4" ry="3" fill="#1010e0"/>
<ellipse cx="526" cy="402" rx="4" ry="3" fill="#f8f0a0"/><ellipse cx="632" cy="402" rx="4" ry="3" fill="#e0d0f8"/><ellipse cx="540" cy="390" rx="4" ry="3" fill="#f8e0c0"/><ellipse cx="615" cy="390" rx="4" ry="3" fill="#f0d0e8"/><ellipse cx="579" cy="372" rx="4" ry="3" fill="#f8d0d0"/>
</g>
<g font-size="5" fill="#555" text-anchor="middle">
<text x="579" y="390">0040</text><text x="560" y="402">1031</text><text x="598" y="402">0131</text><text x="566" y="415">1121</text><text x="615" y="415">0221</text><text x="542" y="415">2021</text><text x="528" y="428">4001</text><text x="638" y="428">0401</text>
<text x="579" y="441">0040</text><text x="565" y="448">1030</text><text x="592" y="448">0130</text><text x="548" y="460">2020</text><text x="575" y="460">1120</text><text x="603" y="460">0220</text>
<text x="535" y="472">3010</text><text x="559" y="472">2110</text><text x="590" y="472">1210</text><text x="618" y="472">0310</text>
<text x="524" y="488">4000</text><text x="548" y="488">3100</text><text x="575" y="488">2200</text><text x="606" y="488">1300</text><text x="638" y="488">0400</text>
</g>
<text x="585" y="510" font-size="7.5" text-anchor="middle">Final PRISM barcode set</text>
</svg>
</body></html>
